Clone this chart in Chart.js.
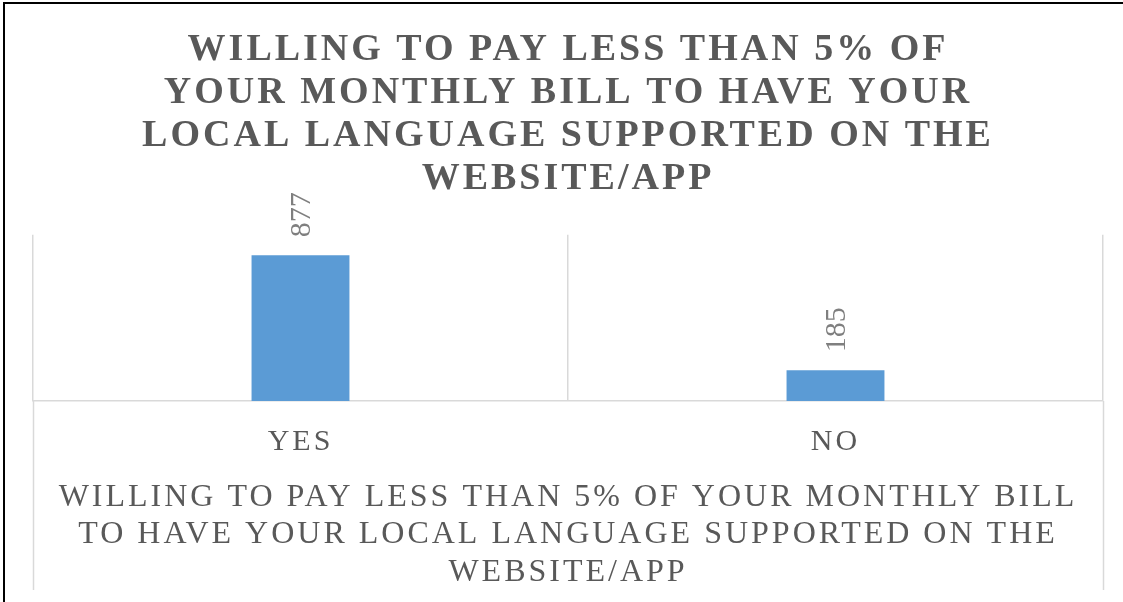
<!DOCTYPE html>
<html>
<head>
<meta charset="utf-8">
<title>Willing to pay less than 5%</title>
<script src="https://cdn.jsdelivr.net/npm/chart.js@4.4.1/dist/chart.umd.min.js"></script>
<style>
    html, body { margin: 0; padding: 0; background: #fff; }
    #wrap { position: relative; width: 1123px; height: 602px; }
</style>
</head>
<body>
<div id="wrap"><canvas id="chart" width="1123" height="602"></canvas></div>
<script>
// Survey answers
const categories = ['YES', 'NO'];
const counts = [877, 185];
const titleLines = [
    'WILLING TO PAY LESS THAN 5% OF',
    'YOUR MONTHLY BILL TO HAVE YOUR',
    'LOCAL LANGUAGE SUPPORTED ON THE',
    'WEBSITE/APP'
];
const axisTitleLines = [
    'WILLING TO PAY LESS THAN 5% OF YOUR MONTHLY BILL',
    'TO HAVE YOUR LOCAL LANGUAGE SUPPORTED ON THE',
    'WEBSITE/APP'
];

const SERIF = "'Liberation Serif', 'Times New Roman', serif";
const TEXT_GREY = '#595959';
const GRID_GREY = '#d9d9d9';

// canvas state is reset on resize, so spacing is re-applied each pass
const letterSpacingPlugin = {
    id: 'letterSpacing',
    beforeLayout(chart) { chart.ctx.letterSpacing = '3px'; },
    beforeDraw(chart) { chart.ctx.letterSpacing = '3px'; }
};

// outer separators run down past the axis labels
const separatorPlugin = {
    id: 'separators',
    afterDraw(chart) {
        const { ctx, chartArea } = chart;
        ctx.save();
        ctx.strokeStyle = GRID_GREY;
        ctx.lineWidth = 1.5;
        [chartArea.left, chartArea.right].forEach(edge => {
            const x = Math.round(edge) + 0.5;
            ctx.beginPath();
            ctx.moveTo(x, chartArea.bottom);
            ctx.lineTo(x, 590);
            ctx.stroke();
        });
        // outer frame, top and left only
        ctx.strokeStyle = '#000';
        ctx.lineWidth = 2;
        ctx.beginPath();
        ctx.moveTo(4, 602);
        ctx.lineTo(4, 3);
        ctx.lineTo(1123, 3);
        ctx.stroke();
        ctx.restore();
    }
};

// rotated value labels above each bar
const valueLabelPlugin = {
    id: 'valueLabels',
    afterDatasetsDraw(chart) {
        const { ctx } = chart;
        const meta = chart.getDatasetMeta(0);
        ctx.save();
        ctx.letterSpacing = '0px';
        ctx.font = `30px ${SERIF}`;
        ctx.fillStyle = '#7f7f7f';
        ctx.textAlign = 'left';
        ctx.textBaseline = 'middle';
        meta.data.forEach((bar, i) => {
            ctx.save();
            ctx.translate(bar.x, bar.y - 18);
            ctx.rotate(-Math.PI / 2);
            ctx.fillText(String(counts[i]), 0, 2);
            ctx.restore();
        });
        ctx.restore();
    }
};

const ctx = document.getElementById('chart').getContext('2d');
const chart = new Chart(ctx, {
    type: 'bar',
    data: {
        labels: categories,
        datasets: [{
            data: counts,
            backgroundColor: '#5b9bd5',
            borderWidth: 0,
            categoryPercentage: 1,
            barPercentage: 0.183
        }]
    },
    options: {
        responsive: false,
        animation: false,
        devicePixelRatio: 1,
        layout: { padding: { left: 33, right: 20, top: 0, bottom: 0 } },
        scales: {
            x: {
                offset: true,
                grid: {
                    offset: true,
                    color: GRID_GREY,
                    lineWidth: 1.5,
                    drawTicks: false
                },
                border: { color: GRID_GREY, width: 1.5 },
                ticks: {
                    color: TEXT_GREY,
                    font: { family: SERIF, size: 30 },
                    padding: 23
                },
                title: {
                    display: true,
                    text: axisTitleLines,
                    color: TEXT_GREY,
                    font: { family: SERIF, size: 32, lineHeight: 1.17 },
                    padding: { top: 0, bottom: 11 }
                },
                afterFit(scale) { scale.height = 201; }
            },
            y: {
                display: false,
                min: 0,
                max: 1000
            }
        },
        plugins: {
            legend: { display: false },
            tooltip: { enabled: false },
            title: {
                display: true,
                text: titleLines,
                color: TEXT_GREY,
                font: { family: SERIF, size: 38, weight: 'bold', lineHeight: 1.13 },
                padding: { top: 29, bottom: 34 }
            }
        }
    },
    plugins: [letterSpacingPlugin, separatorPlugin, valueLabelPlugin]
});
</script>
</body>
</html>
